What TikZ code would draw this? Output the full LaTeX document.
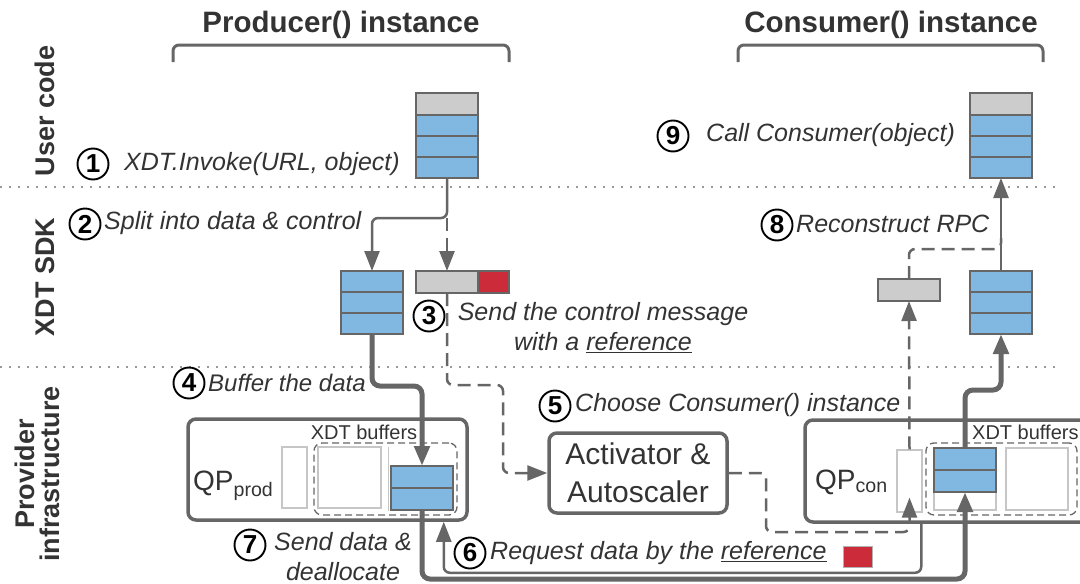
\documentclass[tikz,border=0pt]{standalone}
\usepackage{fontspec}
\setmainfont{Liberation Sans}
\usepackage{xcolor}
\usepackage{tikz}
\usetikzlibrary{arrows.meta,calc}
\definecolor{txt}{HTML}{333333}
\definecolor{wire}{HTML}{666666}
\definecolor{datablue}{HTML}{80B8E2}
\definecolor{ctlgray}{HTML}{CCCCCC}
\definecolor{refred}{HTML}{CC2B3A}
\tikzset{
  head/.style={font=\fontsize{29.5}{32}\selectfont\bfseries, text=txt, inner sep=0pt},
  side/.style={font=\fontsize{27}{25}\selectfont\bfseries, text=txt, rotate=90, align=center, inner sep=0pt},
  lbl/.style={font=\fontsize{25}{30}\selectfont\itshape, text=txt, inner sep=0pt},
  num/.style={circle, draw=black, line width=1.9pt, inner sep=0pt, minimum size=31pt, font=\fontsize{26}{26}\selectfont\bfseries},
  cell/.style={draw=wire, line width=1.2pt, fill=datablue, minimum width=62pt, minimum height=21pt, inner sep=0pt, outer sep=0pt},
  ctlcell/.style={cell, fill=ctlgray, minimum height=22pt},
  slot/.style={draw=gray!45, line width=1.3pt, inner sep=0pt, fill=white},
  grp/.style={draw=wire, line width=1.3pt, dash pattern=on 7pt off 4pt, rounded corners=8pt, inner sep=0pt},
  qpbox/.style={draw=wire, line width=3.5pt, rounded corners=8pt, inner sep=0pt},
  brace/.style={draw=wire, line width=3pt, rounded corners=6pt},
  sep/.style={draw=gray!80, line width=1.5pt, dash pattern=on 1.5pt off 7.5pt},
  flow/.style={draw=wire, line width=2.5pt, rounded corners=6pt, -{Triangle[length=20pt,width=15pt]}},
  bulk/.style={flow, line width=5pt, rounded corners=8pt},
  ctrl/.style={flow, dash pattern=on 13pt off 7pt},
  plain/.style={text=txt, inner sep=0pt}}

\begin{document}
\begin{tikzpicture}[x=1pt,y=-1pt]
  \useasboundingbox (0,0) rectangle (1080,584);
  % headers and layers
  \node[head] (prodtitle) at (341,25) {Producer() instance};
  \node[head] (contitle) at (891,25) {Consumer() instance};
  \draw[brace] (173,62) -- (173,45) -- (509,45) -- (509,62);
  \draw[brace] (738,62) -- (738,45) -- (1043,45) -- (1043,62);
  \node[side] (usr) at (45,111) {User code};
  \node[side] (sdk) at (45,277) {XDT SDK};
  \node[side] (infra) at (37,474) {Provider\\infrastructure};
  \draw[sep] (0,187) -- (1055,187);
  \draw[sep] (0,367) -- (1055,367);

  % user code objects
  \node[ctlcell, anchor=north] (pu0) at (447,93) {};
  \node[ctlcell, anchor=north] (cu0) at (1001,93) {};
  \foreach \i [count=\j from 0] in {1,2,3} {
    \node[cell, anchor=north] (pu\i) at (pu\j.south) {};
    \node[cell, anchor=north] (cu\i) at (cu\j.south) {};
  }

  % sdk: data and control
  \node[cell, anchor=north] (ds1) at (372,271) {};
  \node[cell, anchor=north] (cs1) at (1001,271) {};
  \foreach \i [count=\j from 1] in {2,3} {
    \node[cell, anchor=north] (ds\i) at (ds\j.south) {};
    \node[cell, anchor=north] (cs\i) at (cs\j.south) {};
  }
  \node[ctlcell, anchor=north west] (cbg) at (416,271) {};
  \node[ctlcell, fill=refred, minimum width=31pt, anchor=west] (cbr) at (cbg.east) {};
  \node[ctlcell] (crpc) at (909,290) {};

  % provider infrastructure
  \node[qpbox, minimum width=279pt, minimum height=101pt] (qpp) at (327.5,469.5) {};
  \node[qpbox, minimum width=300pt, minimum height=102pt] (qpc) at (955,471) {};
  \node[grp, minimum width=143pt, minimum height=72pt] (pgrp) at (385.5,479) {};
  \node[grp, minimum width=151pt, minimum height=72pt] (cgrp) at (1001.5,479) {};
  \node[slot, minimum width=25pt, minimum height=61pt] (ps0) at (294.5,477.5) {};
  \node[slot, minimum width=63pt, minimum height=61pt] (ps1) at (349.5,477.5) {};
  \node[minimum width=64pt, minimum height=64pt, inner sep=0pt] (ps2) at (421,479) {};
  \draw[slot] (ps2.north west) -- (ps2.south west);
  \node[slot, minimum width=25pt, minimum height=62pt] (csl) at (909.5,481) {};
  \node[slot, minimum width=62pt, minimum height=62pt] (cs0) at (965,479) {};
  \node[slot, minimum width=62pt, minimum height=62pt] (cs4) at (1037,479) {};
  \node[cell, minimum height=22pt, anchor=north] (pb1) at (422,466) {};
  \node[cell, minimum height=22pt, anchor=north] (pb2) at (pb1.south) {};
  \node[cell, minimum height=22pt, anchor=north] (cbuf1) at (965,448) {};
  \node[cell, minimum height=22pt, anchor=north] (cbuf2) at (cbuf1.south) {};
  \node[plain, font=\fontsize{20}{22}\selectfont] (pbl) at (364,432) {XDT buffers};
  \node[plain, font=\fontsize{20}{22}\selectfont, anchor=west] (cbl) at (972,432) {XDT buffers};
  \node[plain, font=\fontsize{28}{30}\selectfont, anchor=west] (qpplbl) at (193,486) {QP\textsubscript{prod}};
  \node[plain, font=\fontsize{28}{30}\selectfont, anchor=west] (qpclbl) at (815,482) {QP\textsubscript{con}};
  \node[qpbox, minimum width=178pt, minimum height=80pt, align=center, text=txt,
        font=\fontsize{30}{38}\selectfont] (act) at (638,473) {Activator \&\\Autoscaler};
  \node[draw=gray!60, line width=0.8pt, fill=refred, minimum width=29pt, minimum height=21pt, inner sep=0pt] (ref) at (858,557) {};

  % connectors
  \coordinate (split) at (447,218);
  \draw[flow] (pu3.south) -- (split) -| (ds1.north);
  \draw[ctrl] (split) -- (cbg.north);
  \draw[ctrl] (cbg.south) -- (447,385) -| (503,473) -- (act.west);
  \draw[ctrl] (act.east) -| (766,532) -| ($(csl.south)+(0,-15)$);
  \draw[ctrl] (csl.north) -- (crpc.south);
  \draw[ctrl, -] (crpc.north) |- (1001,249) -- (1001,238);
  \draw[flow] (cs1.north) -- (cu3.south);
  \draw[bulk] (ds3.south) -- (372,386) -| (pb1.north);
  \draw[bulk] (pb2.south) -- (422,579) -| (cbuf2.south);
  \draw[bulk] (cbuf1.north) -- (965,390) -| (cs3.south);
  \draw[flow] ($(qpc.south west)+(118,0)$) |- ($(qpp.south east)+(-25,51)$) -- ($(qpp.south east)+(-25,0)$);

  % steps
  \node[num] (n1) at (93,164) {1};
  \node[lbl, anchor=west] (t1) at (124,164) {XDT.Invoke(URL, object)};
  \node[num] (n2) at (85,224) {2};
  \node[lbl, anchor=west] (t2) at (104,223) {Split into data \& control};
  \node[num] (n3) at (429,316) {3};
  \node[lbl, align=center] (t3) at (603,328) {Send the control message\\with a \underline{reference}};
  \node[num] (n4) at (189,383) {4};
  \node[lbl, anchor=west, font=\fontsize{24}{30}\selectfont\itshape] (t4) at (208,383) {Buffer the data};
  \node[num] (n5) at (555,406) {5};
  \node[lbl, anchor=west] (t5) at (575,405) {Choose Consumer() instance};
  \node[num] (n6) at (470,553) {6};
  \node[lbl, anchor=west] (t6) at (490,553) {Request data by the \underline{reference}};
  \node[num] (n7) at (250,545) {7};
  \node[lbl, align=center] (t7) at (343,557) {Send data \&\\deallocate};
  \node[num] (n8) at (777,225) {8};
  \node[lbl, anchor=west] (t8) at (796,224) {Reconstruct RPC};
  \node[num] (n9) at (673,136) {9};
  \node[lbl, anchor=west] (t9) at (706,135) {Call Consumer(object)};
\end{tikzpicture}
\end{document}
